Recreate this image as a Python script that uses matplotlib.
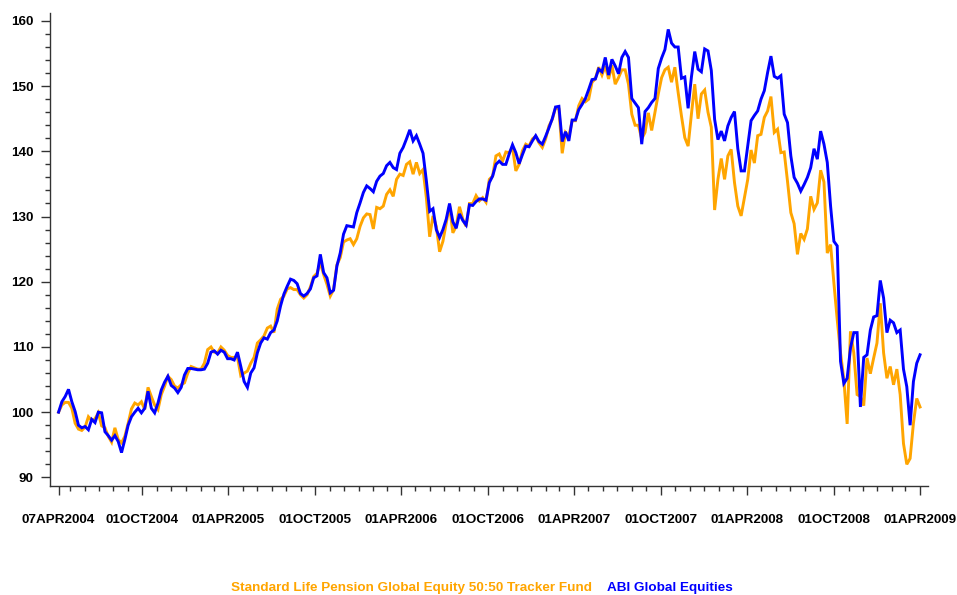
#! /usr/bin/env python3
#=======================================================================
# plot.py
#
# Weekly index of a tracker fund against the ABI sector average.
#=======================================================================
import numpy as np
import matplotlib
matplotlib.use('Agg')
import matplotlib.pyplot as plt

# Weekly valuation dates (Wednesdays), 07APR2004 to 01APR2009.
start = np.datetime64('2004-04-07')
nweeks = 261

# Standard Life Pension Global Equity 50:50 Tracker Fund (rebased to 100).
fund = [
    100.0, 101.1, 101.5, 101.5, 100.6, 98.3, 97.4, 97.2, 97.7, 99.3,
    98.7, 99.0, 99.9, 97.9, 97.6, 96.3, 95.4, 97.6, 95.8, 95.3,
    96.3, 98.3, 100.5, 101.4, 101.1, 101.6, 100.4, 103.8, 102.4, 101.1,
    100.4, 102.7, 104.0, 105.5, 105.0, 104.0, 103.7, 104.2, 104.5, 106.0,
    107.0, 106.8, 106.6, 106.6,
    107.5, 109.6, 110.0, 109.2, 109.1, 110.0, 109.5, 108.7, 108.4, 108.4,
    108.4, 105.6, 106.0, 106.3, 107.5, 108.4, 110.6, 111.1, 111.7, 112.9,
    113.2, 112.2, 115.8, 117.3, 117.8, 118.9, 119.1, 118.8, 118.8, 118.0,
    117.5, 118.0, 119.2, 120.8, 121.3, 122.9, 121.1,
    119.6, 117.8, 118.8, 122.6, 123.7, 126.1, 126.4, 126.6, 125.7, 126.6,
    128.5, 129.8, 130.4, 130.3, 128.1, 131.4, 131.2, 131.6, 133.4, 134.1,
    133.1, 135.7, 136.5, 136.3, 138.0, 138.4, 136.5, 138.3, 136.6, 137.2,
    132.9, 126.9, 130.1, 128.5, 124.6, 126.2, 129.0,
    131.7, 127.5, 128.5, 131.5, 129.6, 128.5, 132.0, 132.0, 133.2, 132.4,
    132.9, 132.2, 135.7, 136.2, 139.3, 139.6, 138.5, 139.9, 139.8, 140.6,
    137.0, 138.0, 140.1, 141.1, 140.8, 141.9, 142.3, 141.3, 140.6, 141.9,
    143.9, 144.9, 146.7, 146.5, 139.7, 142.9, 142.3, 144.7, 144.7, 147.0,
    148.1, 147.6, 148.0, 150.6, 151.1, 152.9, 151.7, 153.1, 151.1, 153.2,
    150.3, 151.3,
    152.5, 152.5, 150.3, 145.7, 144.0, 144.0, 141.9, 142.9, 145.9, 143.2,
    146.0, 148.8, 151.3, 152.5, 152.9, 150.6, 152.9, 149.0, 145.4, 142.1,
    140.8, 145.7, 150.3, 145.0, 148.8, 149.4, 146.0, 143.7, 131.0, 135.7,
    138.9, 135.7, 139.3, 140.3, 135.2, 131.6, 130.1, 132.9, 135.7, 140.2,
    138.2, 142.4, 142.6, 145.2, 146.2, 148.4, 142.9, 143.4, 139.8, 139.9,
    135.4, 130.6, 128.9, 124.2, 127.4, 126.5, 128.1, 133.1, 131.1, 132.1,
    137.1, 135.3, 124.4, 125.7, 119.8, 114.2, 109.1, 105.0, 98.2, 112.4,
    109.1, 102.7, 102.4, 101.0, 108.3, 105.9, 108.3, 110.6, 116.7, 109.1,
    105.2, 107.0, 104.2, 106.6, 102.7, 95.2, 92.0, 92.9, 98.3, 102.1,
    100.8,
]

# ABI Global Equities sector average (rebased to 100).
abi = [
    100.0, 101.6, 102.4, 103.5, 101.6, 100.1, 98.0, 97.6, 97.8, 97.3,
    98.9, 98.4, 100.0, 99.9, 97.0, 96.4, 95.7, 96.4, 95.5, 93.8,
    95.8, 98.0, 99.3, 100.0, 100.6, 99.9, 100.6, 103.2, 100.6, 99.9,
    101.4, 103.4, 104.6, 105.5, 104.1, 103.7, 103.0, 103.8, 105.7, 106.7,
    106.7, 106.6, 106.5, 106.5,
    106.6, 107.5, 109.2, 109.4, 108.9, 109.5, 109.2, 108.2, 108.2, 108.0,
    109.2, 107.0, 104.7, 103.8, 106.0, 106.8, 109.1, 110.6, 111.4, 111.2,
    112.2, 112.6, 114.0, 116.3, 118.1, 119.3, 120.4, 120.2, 119.7, 118.2,
    117.8, 118.2, 118.9, 120.6, 120.9, 124.2,
    121.4, 120.6, 118.3, 118.7, 122.4, 124.4, 127.3, 128.6, 128.5, 128.4,
    130.6, 132.1, 133.7, 134.7, 134.3, 133.8, 135.4, 136.2, 136.6, 137.8,
    138.3, 137.5, 137.2, 139.7, 140.6, 141.9, 143.3, 141.6, 142.4, 141.1,
    139.7, 135.5, 130.8,
    131.2, 128.0, 126.8, 128.0, 129.6, 132.0, 129.2, 128.2, 130.4, 129.4,
    128.7, 131.8, 131.7, 132.3, 132.7, 132.7, 132.5, 135.2, 136.2, 138.0,
    138.5, 138.0, 138.0, 139.6, 141.0, 139.8, 138.1, 139.5, 140.8, 140.7,
    141.6, 142.4, 141.5, 141.1, 142.3, 143.6, 145.0, 146.8, 146.9, 141.5,
    143.0, 141.6, 144.8, 144.8, 146.4, 147.2, 148.1, 149.5, 151.0, 151.1,
    152.6, 152.2, 154.4, 151.7, 154.1, 153.1, 151.9,
    154.4, 155.3, 154.4, 148.1, 147.4, 146.7, 141.1, 146.1, 146.7, 147.5,
    148.1, 152.7, 154.3, 155.6, 158.7, 156.6, 156.0, 156.0, 151.2, 151.4,
    146.6, 151.4, 155.3, 152.6, 152.2, 155.7, 155.4, 152.4, 144.9, 141.8,
    143.1, 141.6, 143.9, 145.2, 146.1, 140.4, 137.0, 137.0, 140.8, 144.7,
    145.5, 146.2, 148.0, 149.3, 152.1, 154.6, 151.5, 151.2, 151.6, 145.7,
    144.4, 139.3, 136.0, 135.1, 133.9, 134.9, 136.0, 137.5, 140.4, 138.8,
    143.1, 141.1, 138.3, 131.6, 126.2, 125.5, 107.8, 104.4, 105.2, 109.8,
    112.2, 112.2, 100.8, 108.4, 108.8, 112.6, 114.6, 114.8, 120.2, 117.5,
    112.2, 114.1, 113.7, 112.2, 112.6, 106.6, 103.9, 98.0, 104.7, 107.5,
    108.8,
]

# Axis ticks.
major_dates = ['2004-04-07', '2004-10-01', '2005-04-01', '2005-10-01',
               '2006-04-01', '2006-10-01', '2007-04-01', '2007-10-01',
               '2008-04-01', '2008-10-01', '2009-04-01']
major_labels = ['07APR2004', '01OCT2004', '01APR2005', '01OCT2005',
                '01APR2006', '01OCT2006', '01APR2007', '01OCT2007',
                '01APR2008', '01OCT2008', '01APR2009']
yticks = [90, 100, 110, 120, 130, 140, 150, 160]

series_names = ['Standard Life Pension Global Equity 50:50 Tracker Fund',
                'ABI Global Equities']
colors = ['#FFA500', '#0000FF']

#=======================================================================
plt.rcParams['font.family'] = ['Liberation Sans', 'DejaVu Sans']
plt.rcParams['font.weight'] = 'bold'

dates = start + np.arange(nweeks) * np.timedelta64(7, 'D')

fig = plt.figure(figsize=(9.57, 5.95), dpi=100)
ax = fig.add_axes([0.0523, 0.183, 0.917, 0.795])

ax.plot(dates, fund, color=colors[0], lw=2.1, solid_joinstyle='miter')
ax.plot(dates, abi, color=colors[1], lw=2.1, solid_joinstyle='miter')

# Monthly minor ticks.
months = np.arange(np.datetime64('2004-05'), np.datetime64('2009-04'),
                   np.timedelta64(1, 'M')).astype('datetime64[D]')
majors = np.array(major_dates, dtype='datetime64[D]')
minors = np.array([m for m in months if m not in majors])

ax.set_xticks(majors)
ax.set_xticklabels(major_labels)
ax.set_xticks(minors, minor=True)
ax.set_yticks(yticks)
ax.set_yticks(np.arange(90, 161, 2), minor=True)

ax.set_xlim(np.datetime64('2004-03-20'), np.datetime64('2009-04-17'))
ax.set_ylim(88.66, 161.2)

for side in ['top', 'right']:
    ax.spines[side].set_visible(False)
for side in ['left', 'bottom']:
    ax.spines[side].set_color('#333333')
    ax.spines[side].set_linewidth(1.0)

ax.tick_params(which='major', direction='out', length=6.5, width=1,
               color='#333333', labelsize=9.7)
ax.tick_params(which='minor', direction='out', length=3.6, width=1,
               color='#333333')
ax.tick_params(axis='x', which='major', pad=13.5)
ax.tick_params(axis='y', which='major', pad=5.5)

# Legend drawn as coloured text below the axes.
fig.text(592 / 957, 1 - 588 / 595, series_names[0], color=colors[0],
         ha='right', va='center', fontsize=9.7, fontweight='bold')
fig.text(607 / 957, 1 - 588 / 595, series_names[1], color=colors[1],
         ha='left', va='center', fontsize=9.7, fontweight='bold')

fig.savefig('out.png', dpi=100)
